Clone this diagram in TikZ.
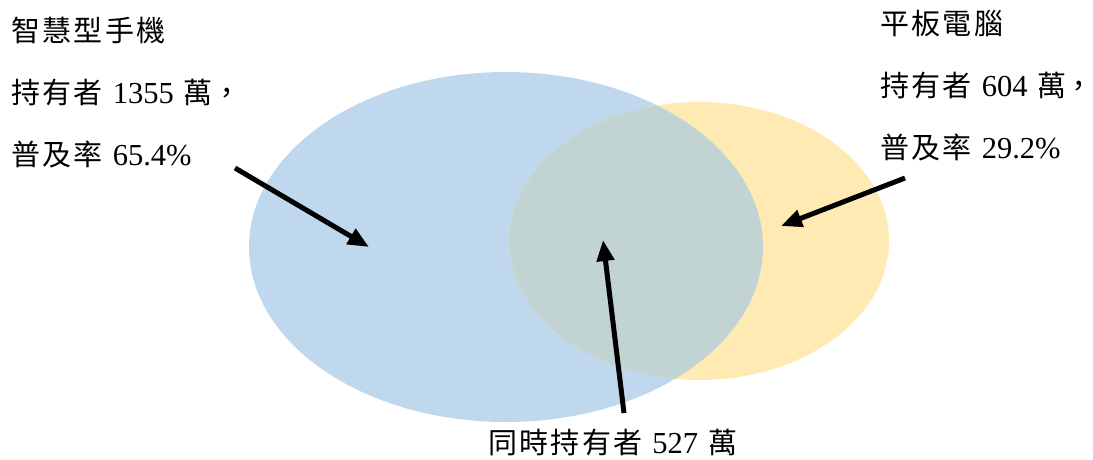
\documentclass[tikz,border=0pt]{standalone}
\usepackage{fontspec}
\setmainfont{Liberation Serif}
\newfontfamily\cjk[LetterSpace=8]{Noto Sans CJK TC}
\newfontfamily\cjkp{Noto Sans CJK TC}
\usetikzlibrary{arrows.meta}
\definecolor{blueF}{RGB}{192,216,237}
\definecolor{yellowF}{RGB}{255,234,179}
\definecolor{overF}{RGB}{193,211,211}
\newcommand{\gapA}{\hspace{10pt}}
\newcommand{\cjkt}[1]{{\fontsize{29}{29}\cjk #1}}
\newcommand{\cjkc}{{\fontsize{29}{29}\cjkp ，}}
\tikzset{
  lbl/.style={anchor=base west, inner sep=0pt, font=\fontsize{30.5}{30.5}\selectfont},
  pointer/.style={line width=5pt, -{Triangle[length=21pt,width=17pt]}}
}
\begin{document}
\begin{tikzpicture}[x=1pt,y=-1pt]
\useasboundingbox (0,0) rectangle (1093,459);
% ellipses
\fill[blueF] (506,247) ellipse [x radius=257, y radius=175];
\fill[yellowF] (699,241) ellipse [x radius=190, y radius=139];
\begin{scope}
  \clip (699,241) ellipse [x radius=190, y radius=139];
  \fill[overF] (506,247) ellipse [x radius=257, y radius=175];
\end{scope}
% labels
\node[lbl] (s1) at (11,41) {\cjkt{智慧型手機}};
\node[lbl] (s2) at (11,103) {\cjkt{持有者}\gapA 1355\gapA\cjkt{萬}\cjkc};
\node[lbl] (s3) at (11,165) {\cjkt{普及率}\gapA 65.4\%};
\node[lbl] (t1) at (880,34) {\cjkt{平板電腦}};
\node[lbl] (t2) at (880,96) {\cjkt{持有者}\gapA 604\gapA\cjkt{萬}\hspace{-2pt}\cjkc};
\node[lbl] (t3) at (880,158) {\cjkt{普及率}\gapA 29.2\%};
\node[lbl] (b1) at (488,453) {\cjkt{同時持有者}\gapA 527\gapA\cjkt{萬}};
% arrow endpoints
\coordinate (a1s) at (235,168);
\coordinate (a1e) at (369,247);
\coordinate (a2s) at (905,178);
\coordinate (a2e) at (781,226);
\coordinate (a3s) at (624,413);
\coordinate (a3e) at (603,240);
\draw[pointer] (a1s) -- (a1e);
\draw[pointer] (a2s) -- (a2e);
\draw[pointer] (a3s) -- (a3e);
\end{tikzpicture}
\end{document}
